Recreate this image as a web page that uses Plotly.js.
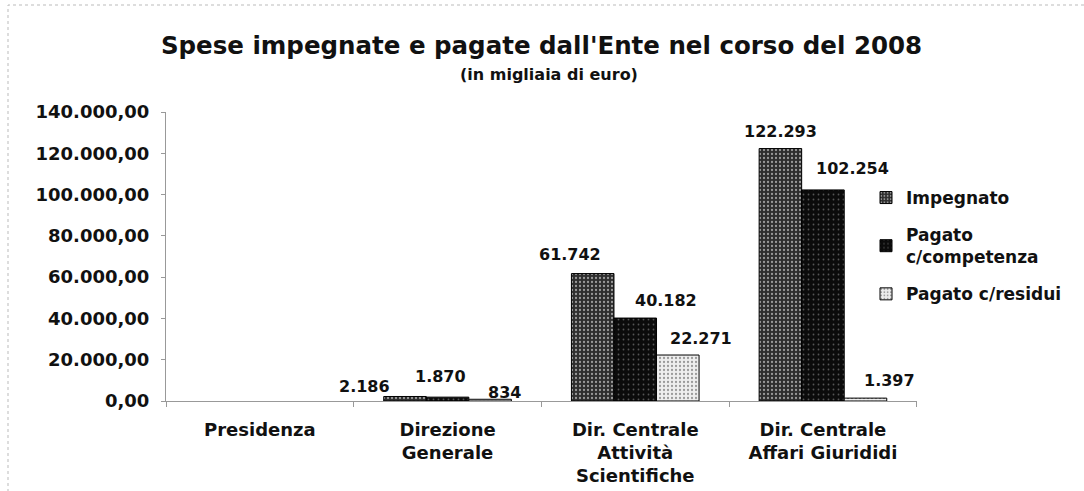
<!DOCTYPE html>
<html>
<head>
<meta charset="utf-8">
<script src="https://cdn.plot.ly/plotly-3.0.1.min.js"></script>
<style>html,body{margin:0;padding:0;background:#fff;}#chart{width:1084px;height:491px;}</style>
</head>
<body>
<div id="chart"></div>
<script>
const categories = ["Presidenza", "Direzione<br>Generale", "Dir. Centrale<br>Attività<br>Scientifiche", "Dir. Centrale<br>Affari Giurididi"];
const seriesNames = ["Impegnato", "Pagato<br>c/competenza", "Pagato c/residui"];
const impegnato = [null, 2186, 61742, 122293];
const pagatoCompetenza = [null, 1870, 40182, 102254];
const pagatoResidui = [null, 834, 22271, 1397];
const yTickVals = [0, 20000, 40000, 60000, 80000, 100000, 120000, 140000];

const FONT = "DejaVu Sans, Verdana, sans-serif";
const seriesValues = [impegnato, pagatoCompetenza, pagatoResidui];
const styles = [
  {color: "#2e2e2e", pattern: {shape: ".", bgcolor: "#2e2e2e", fgcolor: "#9a9a9a", size: 4, solidity: 0.25}},
  {color: "#0b0b0b", pattern: {shape: ".", bgcolor: "#0b0b0b", fgcolor: "#555555", size: 5, solidity: 0.1}},
  {color: "#e4e4e4", pattern: {shape: ".", bgcolor: "#eeeeee", fgcolor: "#9a9a9a", size: 4, solidity: 0.25}}
];

const traces = seriesValues.map((vals, i) => ({
  type: "bar",
  name: seriesNames[i],
  x: categories,
  y: vals,
  legendgroup: "g" + i,
  marker: {color: styles[i].color, pattern: styles[i].pattern, line: {color: "#000", width: 1}},
  hoverinfo: "x+y+name"
}));

// label nudges (style only): per category, per series [dx, dy] in px
const nudges = [
  [[0,0],[0,0],[0,0]],
  [[-40,-6],[-7,5],[14,-9]],
  [[-23,4],[31,2],[23,1]],
  [[0,2],[30,6],[24,2]]
];
const bargap = 0.32;
const plotW = 1084 - 166 - 167;
const catPx = plotW / categories.length;
const barPx = catPx * (1 - bargap) / 3;

const fmt = v => Math.round(v).toString().replace(/\B(?=(\d{3})+(?!\d))/g, ".");
const annotations = [];
seriesValues.forEach((vals, s) => {
  vals.forEach((v, c) => {
    if (v === null) return;
    annotations.push({
      x: categories[c], y: v, xref: "x", yref: "y",
      text: fmt(v), showarrow: false,
      xanchor: "center", yanchor: "bottom",
      xshift: (s - 1) * barPx + nudges[c][s][0],
      yshift: 4 + nudges[c][s][1],
      font: {family: FONT, size: 16, color: "#111", weight: "bold"}
    });
  });
});
annotations.push({
  xref: "paper", yref: "paper", x: 0.51, y: (401 - 74) / 289, xanchor: "center", yanchor: "middle",
  text: "(in migliaia di euro)", showarrow: false,
  font: {family: FONT, size: 16, color: "#111", weight: "bold"}
});

const layout = {
  width: 1084, height: 491,
  margin: {l: 166, r: 167, t: 112, b: 90, autoexpand: false},
  paper_bgcolor: "#fff", plot_bgcolor: "#fff",
  separators: ",.",
  title: {
    text: "Spese impegnate e pagate dall'Ente nel corso del 2008",
    x: 0.5, xref: "paper", xanchor: "center",
    y: 1 - 45/491, yref: "container", yanchor: "middle",
    font: {family: FONT, size: 24.5, color: "#111", weight: "bold"}
  },
  barmode: "group",
  bargap: bargap, bargroupgap: 0,
  xaxis: {
    type: "category",
    showline: true, linecolor: "#999", linewidth: 1,
    ticks: "outside", tickson: "boundaries", ticklen: 5, tickcolor: "#999",
    ticklabelstandoff: 12,
    tickfont: {family: FONT, size: 18, color: "#111", weight: "bold"},
    showgrid: false, zeroline: false, fixedrange: true
  },
  yaxis: {
    range: [0, 140000],
    tickvals: yTickVals,
    tickformat: ",.2f",
    showline: true, linecolor: "#999", linewidth: 1,
    ticks: "outside", ticklen: 4, tickcolor: "#999",
    ticklabelstandoff: 8,
    tickfont: {family: FONT, size: 18, color: "#111", weight: "bold"},
    showgrid: false, zeroline: false, fixedrange: true
  },
  showlegend: true,
  legend: {
    x: (866 - 166) / plotW, xanchor: "left", xref: "paper",
    y: (401 - 180) / 289, yanchor: "top",
    bgcolor: "rgba(0,0,0,0)",
    font: {family: FONT, size: 17, color: "#111", weight: "bold"},
    traceorder: "grouped",
    tracegroupgap: 12,
    itemwidth: 30
  },
  annotations: annotations,
  shapes: [{
    type: "rect", xref: "paper", yref: "paper",
    x0: -158/plotW, x1: 1.5, y0: -1, y1: (401 - 5) / 289,
    line: {color: "#bbb", width: 1, dash: "dot"}, fillcolor: "rgba(0,0,0,0)", layer: "below"
  }]
};

Plotly.newPlot("chart", traces, layout, {staticPlot: true, displayModeBar: false});
</script>
</body>
</html>
